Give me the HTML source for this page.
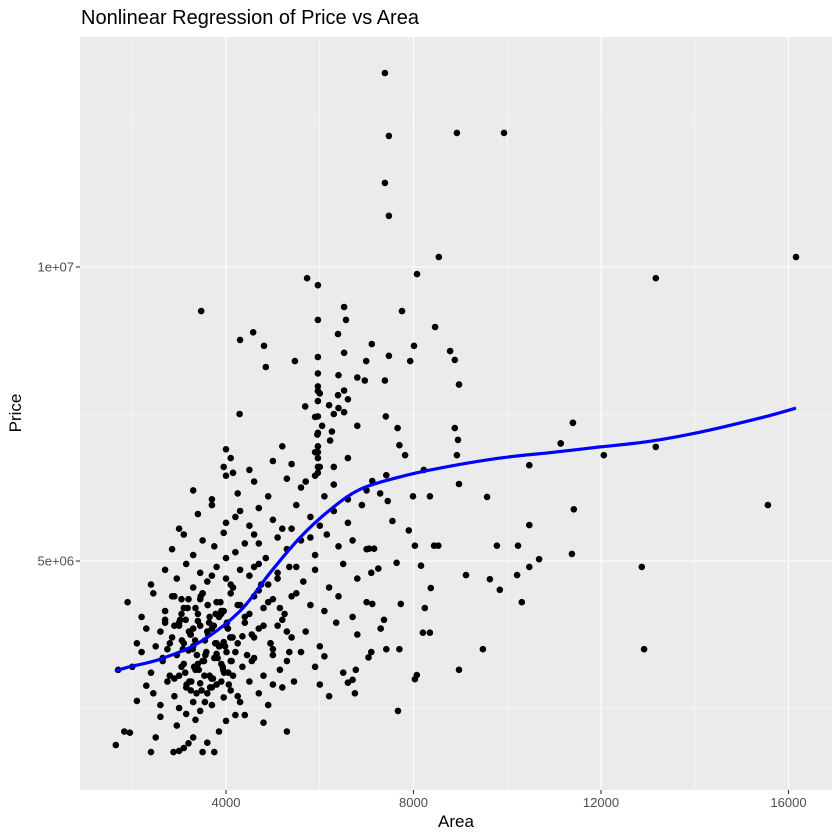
<!DOCTYPE html>
<html><head><meta charset="utf-8">
<style>
html,body{margin:0;padding:0;background:#fff;}
svg{display:block;font-family:"Liberation Sans",sans-serif;}
</style></head>
<body>
<svg id="chart" width="840" height="840" viewBox="0 0 840 840">
<rect x="0" y="0" width="840" height="840" fill="#fff"/>
<rect x="80" y="37" width="752" height="753" fill="#EBEBEB"/>
<g id="grid"></g>
<g id="points"></g>
<g id="curve"></g>
<g id="axes"></g>
<text x="81" y="24" font-size="20" fill="#000">Nonlinear Regression of Price vs Area</text>
<text x="456" y="827" font-size="17" fill="#000" text-anchor="middle">Area</text>
<text x="21" y="413" font-size="17" fill="#000" text-anchor="middle" transform="rotate(-90 21 413)">Price</text>
</svg>
<script>
const xTicks=[4000,8000,12000,16000];
const xTickLabels=["4000","8000","12000","16000"];
const xMinor=[2000,6000,10000,14000];
const yTicks=[5e6,1e7];
const yTickLabels=["5e+06","1e+07"];
const yMinor=[2.5e6,7.5e6,1.25e7];
const areas=[
7390,7475,8925,9930,7390,7475,8540,16160,8075,13170,5730,5960,3470,6520,6560,5960,7755,4580,4300,6390,8460,7110,8010,4810,8780,6520,7475,5960,5470,6990,8880,7930,4850,
5960,6800,6400,7390,6960,8970,5960,6520,5960,6390,5960,5690,6520,7410,4290,11400,5960,7660,6260,8880,8950,5960,6220,11140,8925,
11400,11140,13170,12060,10470,9570,10470,11420,9780,10230,10680,11380,12870,9120,9630,10210,10470,9840,10310,15560,9480,12920,8970,8970,8350,8440,8530,8370,8240,8200,8350,8070,8030,7670,7730,8160,8030,7900,7990,8220,7820,7700,7420,7120,7290,7450,7550,7050,7160,7640,7250,7120,7370,7700,7420,6770,6600,6750,7040,
1650,1830,1950,2400,2500,2880,3000,3100,3200,3300,3500,3600,3750,3850,4000,4200,4400,4800,5300,3150,2600,3450,2950,3350,
1700,2100,2300,2600,2750,2900,3000,3150,3300,3450,3600,3700,3800,3950,4100,4300,4500,4700,4900,5200,5450,6000,6200,6700,2450,3250,3550,3900,4250,5000,
2000,2200,2400,2650,2800,2950,3050,3200,3350,3500,3650,3800,3900,4050,4200,4350,4600,4800,5000,5150,5300,5600,5900,6100,6500,7100,2900,3400,3750,4150,4450,
2100,2300,2500,2700,2850,3000,3100,3250,3400,3550,3700,3850,4000,4100,4250,4400,4550,4700,4950,5100,5400,5700,6000,6350,6800,7300,3000,3300,3600,3950,4350,
1900,2200,2450,2700,2900,3050,3200,3350,3500,3650,3800,3950,4100,4250,4400,4600,4800,5000,5250,5500,5800,6100,6400,6700,7000,3100,3450,3900,4300,
2400,2700,2950,3150,3300,3450,3600,3800,4000,4150,4300,4500,4700,4900,5100,5350,5650,5900,6200,6500,6800,7100,3700,4100,4600,
2850,3100,3300,3500,3750,3950,4200,4400,4600,4850,5100,5300,5600,5900,6150,6400,6700,7000,4000,4700,5800,
3000,3400,3700,4000,4300,4500,4700,5000,5200,5500,5800,6000,6300,6600,6900,4200,5400,
3300,3700,4000,4250,4600,4900,5300,5600,5900,6100,6300,6600,7000,4150,5700,
3950,4100,4500,5000,5400,5900,6300,6600,4000,5200,6000,
5900,6000,6400,6600,6800,5950,6050,6200,6300,
3000,3080,3160,3240,3320,3400,3480,3560,3640,3720,3800,3880,3960,4040,4120,3020,3100,3180,3260,3340,3420,3500,3580,3660,3740,3820,3900,3980,4060,4140,
3050,3130,3210,3290,3370,3450,3530,3610,3690,3770,3850,3930,4010,4090,3060,3140,3220,3300,3380,3460,3540,3620,3700,3780,3860,3940,4020,4100,
4500,4600,4700,4800,4900,5000,5100,5200,5300,5400,5500,4550,4750,4950,5150,5350,2600,2700,2800,2900,2650,2750,2850,5960,5960,5960,5960,5960
];
const prices=[
13.3e6,12.23e6,12.28e6,12.28e6,11.43e6,10.87e6,10.17e6,10.17e6,9.88e6,9.81e6,9.81e6,9.69e6,9.25e6,9.32e6,9.1e6,9.1e6,9.25e6,8.89e6,8.76e6,8.86e6,8.98e6,8.69e6,8.66e6,8.66e6,8.57e6,8.54e6,8.49e6,8.47e6,8.4e6,8.4e6,8.42e6,8.4e6,8.3e6,
8.19e6,8.12e6,8.16e6,8.07e6,8.07e6,8.0e6,7.97e6,7.9e6,7.89e6,7.82e6,7.72e6,7.63e6,7.53e6,7.46e6,7.5e6,7.35e6,7.46e6,7.26e6,7.2e6,7.26e6,7.06e6,7.18e6,7.05e6,7.0e6,6.8e6,
7.35e6,7.0e6,6.94e6,6.8e6,6.63e6,6.09e6,5.61e6,5.88e6,5.26e6,5.26e6,5.03e6,5.12e6,4.9e6,4.76e6,4.69e6,4.76e6,4.9e6,4.51e6,4.3e6,5.95e6,3.5e6,3.5e6,3.15e6,6.31e6,6.1e6,5.26e6,5.26e6,4.54e6,4.2e6,3.78e6,3.78e6,3.06e6,2.99e6,2.45e6,4.27e6,4.92e6,5.26e6,5.52e6,6.1e6,6.55e6,6.8e6,6.97e6,6.46e6,6.36e6,6.15e6,6.02e6,5.68e6,5.21e6,5.21e6,4.97e6,4.87e6,4.27e6,4.0e6,3.5e6,3.5e6,3.15e6,2.93e6,2.75e6,3.36e6,
1.87e6,2.1e6,2.08e6,1.75e6,2.0e6,1.75e6,1.77e6,1.82e6,1.9e6,2.0e6,1.75e6,1.91e6,1.75e6,2.1e6,2.28e6,2.38e6,2.38e6,2.25e6,2.1e6,2.4e6,2.35e6,2.45e6,2.2e6,2.3e6,
3.15e6,2.62e6,2.88e6,2.55e6,2.95e6,2.7e6,2.5e6,2.85e6,2.6e6,2.92e6,2.75e6,2.55e6,2.9e6,2.68e6,2.8e6,2.6e6,2.95e6,2.75e6,2.55e6,2.85e6,2.95e6,2.9e6,2.7e6,2.98e6,2.75e6,2.8e6,2.6e6,2.95e6,2.7e6,2.9e6,
3.2e6,3.45e6,3.1e6,3.35e6,3.05e6,3.4e6,3.2e6,3.48e6,3.15e6,3.3e6,3.05e6,3.42e6,3.25e6,3.1e6,3.45e6,3.2e6,3.35e6,3.05e6,3.4e6,3.15e6,3.3e6,3.45e6,3.2e6,3.38e6,3.1e6,3.45e6,3.0e6,3.25e6,3.35e6,3.05e6,3.4e6,
3.6e6,3.85e6,3.55e6,3.95e6,3.7e6,3.9e6,3.6e6,3.75e6,3.98e6,3.65e6,3.85e6,3.55e6,3.9e6,3.7e6,3.6e6,3.95e6,3.75e6,3.85e6,3.6e6,3.9e6,3.7e6,3.8e6,3.55e6,3.95e6,3.75e6,3.85e6,3.95e6,3.55e6,3.8e6,3.62e6,3.72e6,
4.3e6,4.05e6,4.45e6,4.15e6,4.4e6,4.1e6,4.35e6,4.2e6,4.45e6,4.05e6,4.3e6,4.15e6,4.45e6,4.25e6,4.05e6,4.4e6,4.2e6,4.35e6,4.1e6,4.45e6,4.25e6,4.15e6,4.4e6,4.05e6,4.3e6,4.2e6,4.35e6,4.1e6,4.25e6,
4.6e6,4.85e6,4.7e6,4.95e6,4.55e6,4.8e6,4.65e6,4.9e6,4.7e6,4.55e6,4.85e6,4.75e6,4.95e6,4.6e6,4.8e6,4.9e6,4.65e6,4.85e6,4.55e6,4.95e6,4.7e6,4.8e6,4.75e6,4.6e6,4.9e6,
5.2e6,5.45e6,5.1e6,5.35e6,5.25e6,5.48e6,5.15e6,5.3e6,5.45e6,5.05e6,5.4e6,5.2e6,5.35e6,5.1e6,5.45e6,5.25e6,5.35e6,5.2e6,5.05e6,5.3e6,5.4e6,
5.55e6,5.8e6,5.95e6,5.65e6,5.85e6,5.6e6,5.9e6,5.7e6,5.55e6,5.95e6,5.75e6,5.6e6,5.85e6,5.65e6,5.95e6,5.75e6,5.55e6,
6.2e6,6.05e6,6.45e6,6.15e6,6.35e6,6.1e6,6.4e6,6.25e6,6.45e6,6.1e6,6.3e6,6.05e6,6.2e6,6.5e6,6.35e6,
6.6e6,6.75e6,6.55e6,6.7e6,6.65e6,6.85e6,6.6e6,6.75e6,6.9e6,6.95e6,6.6e6,
7.45e6,7.85e6,7.6e6,7.75e6,7.3e6,7.15e6,7.3e6,7.65e6,7.5e6,
3.05e6,3.5e6,2.9e6,3.75e6,3.2e6,4.1e6,2.8e6,3.4e6,3.95e6,3.0e6,3.6e6,4.3e6,3.1e6,3.85e6,3.3e6,4.0e6,3.25e6,4.2e6,2.95e6,3.65e6,3.15e6,4.45e6,3.45e6,2.85e6,3.9e6,3.35e6,4.15e6,3.55e6,2.9e6,3.7e6,
4.35e6,3.1e6,3.8e6,3.5e6,2.75e6,3.9e6,3.3e6,4.25e6,3.0e6,3.6e6,4.05e6,3.2e6,3.45e6,3.7e6,3.65e6,4.0e6,2.95e6,3.85e6,3.4e6,4.4e6,3.05e6,3.75e6,2.85e6,4.1e6,3.55e6,3.15e6,3.95e6,3.3e6,
4.1e6,3.7e6,4.5e6,3.9e6,4.3e6,3.5e6,4.7e6,4.0e6,3.8e6,4.4e6,4.9e6,3.3e6,4.6e6,3.6e6,4.2e6,3.45e6,3.8e6,4.0e6,3.6e6,3.9e6,3.3e6,3.5e6,4.4e6,6.75e6,6.85e6,6.95e6,6.6e6,6.5e6
];
const curveAreas=[1630,1940,2590,3440,4300,4940,5580,6220,6860,7710,8500,9840,11000,11980,13000,14110,15390,16160];
const curvePrices=[3.13e6,3.2e6,3.33e6,3.62e6,4.15e6,4.8e6,5.4e6,5.87e6,6.22e6,6.43e6,6.57e6,6.75e6,6.85e6,6.94e6,7.03e6,7.19e6,7.43e6,7.6e6];

const NS="http://www.w3.org/2000/svg";
const PL=80,PR=832,PT=37,PB=790;
function sx(v){return 38.5+v*0.046875;}
function sy(v){return 855-v*294/5e6;}
function mk(tag,attrs,parent){const e=document.createElementNS(NS,tag);for(const k in attrs)e.setAttribute(k,attrs[k]);parent.appendChild(e);return e;}
const grid=document.getElementById('grid');
xMinor.forEach(v=>{const l=mk('line',{x1:sx(v),x2:sx(v),y1:PT,y2:PB,stroke:'#fff','stroke-width':0.55},grid);

});
yMinor.forEach(v=>{const l=mk('line',{x1:PL,x2:PR,y1:sy(v),y2:sy(v),stroke:'#fff','stroke-width':0.55},grid);

});
xTicks.forEach(v=>{const l=mk('line',{x1:sx(v),x2:sx(v),y1:PT,y2:PB,stroke:'#fff','stroke-width':1.1},grid);

});
yTicks.forEach(v=>{const l=mk('line',{x1:PL,x2:PR,y1:sy(v),y2:sy(v),stroke:'#fff','stroke-width':1.1},grid);

});
const pts=document.getElementById('points');
for(let i=0;i<areas.length;i++){const c=mk('circle',{cx:sx(areas[i]).toFixed(1),cy:sy(prices[i]).toFixed(1),r:3.3,fill:'#000'},pts);

}
const cv=document.getElementById('curve');
const P=curveAreas.map((a,i)=>[sx(a),sy(curvePrices[i])]);
let d='M'+P[0][0].toFixed(1)+','+P[0][1].toFixed(1);
for(let i=0;i<P.length-1;i++){const p0=P[Math.max(0,i-1)],p1=P[i],p2=P[i+1],p3=P[Math.min(P.length-1,i+2)];
const c1=[p1[0]+(p2[0]-p0[0])/6,p1[1]+(p2[1]-p0[1])/6],c2=[p2[0]-(p3[0]-p1[0])/6,p2[1]-(p3[1]-p1[1])/6];
d+=' C'+c1.map(v=>v.toFixed(1)).join(',')+' '+c2.map(v=>v.toFixed(1)).join(',')+' '+p2.map(v=>v.toFixed(1)).join(',');}
const p=mk('path',{d:d,fill:'none',stroke:'#0000FF','stroke-width':3.2,'stroke-linejoin':'round'},cv);


const ax=document.getElementById('axes');
xTicks.forEach((v,i)=>{const t=mk('line',{x1:sx(v),x2:sx(v),y1:PB,y2:PB+4,stroke:'#333','stroke-width':1.1},ax);


const tx=mk('text',{x:sx(v),y:PB+17,'font-size':13,fill:'#4D4D4D','text-anchor':'middle'},ax);tx.textContent=xTickLabels[i];

});
yTicks.forEach((v,i)=>{const t=mk('line',{x1:PL-4,x2:PL,y1:sy(v),y2:sy(v),stroke:'#333','stroke-width':1.1},ax);


const tx=mk('text',{x:PL-6,y:sy(v)+4.5,'font-size':13,fill:'#4D4D4D','text-anchor':'end'},ax);tx.textContent=yTickLabels[i];

});
</script>
</body></html>
